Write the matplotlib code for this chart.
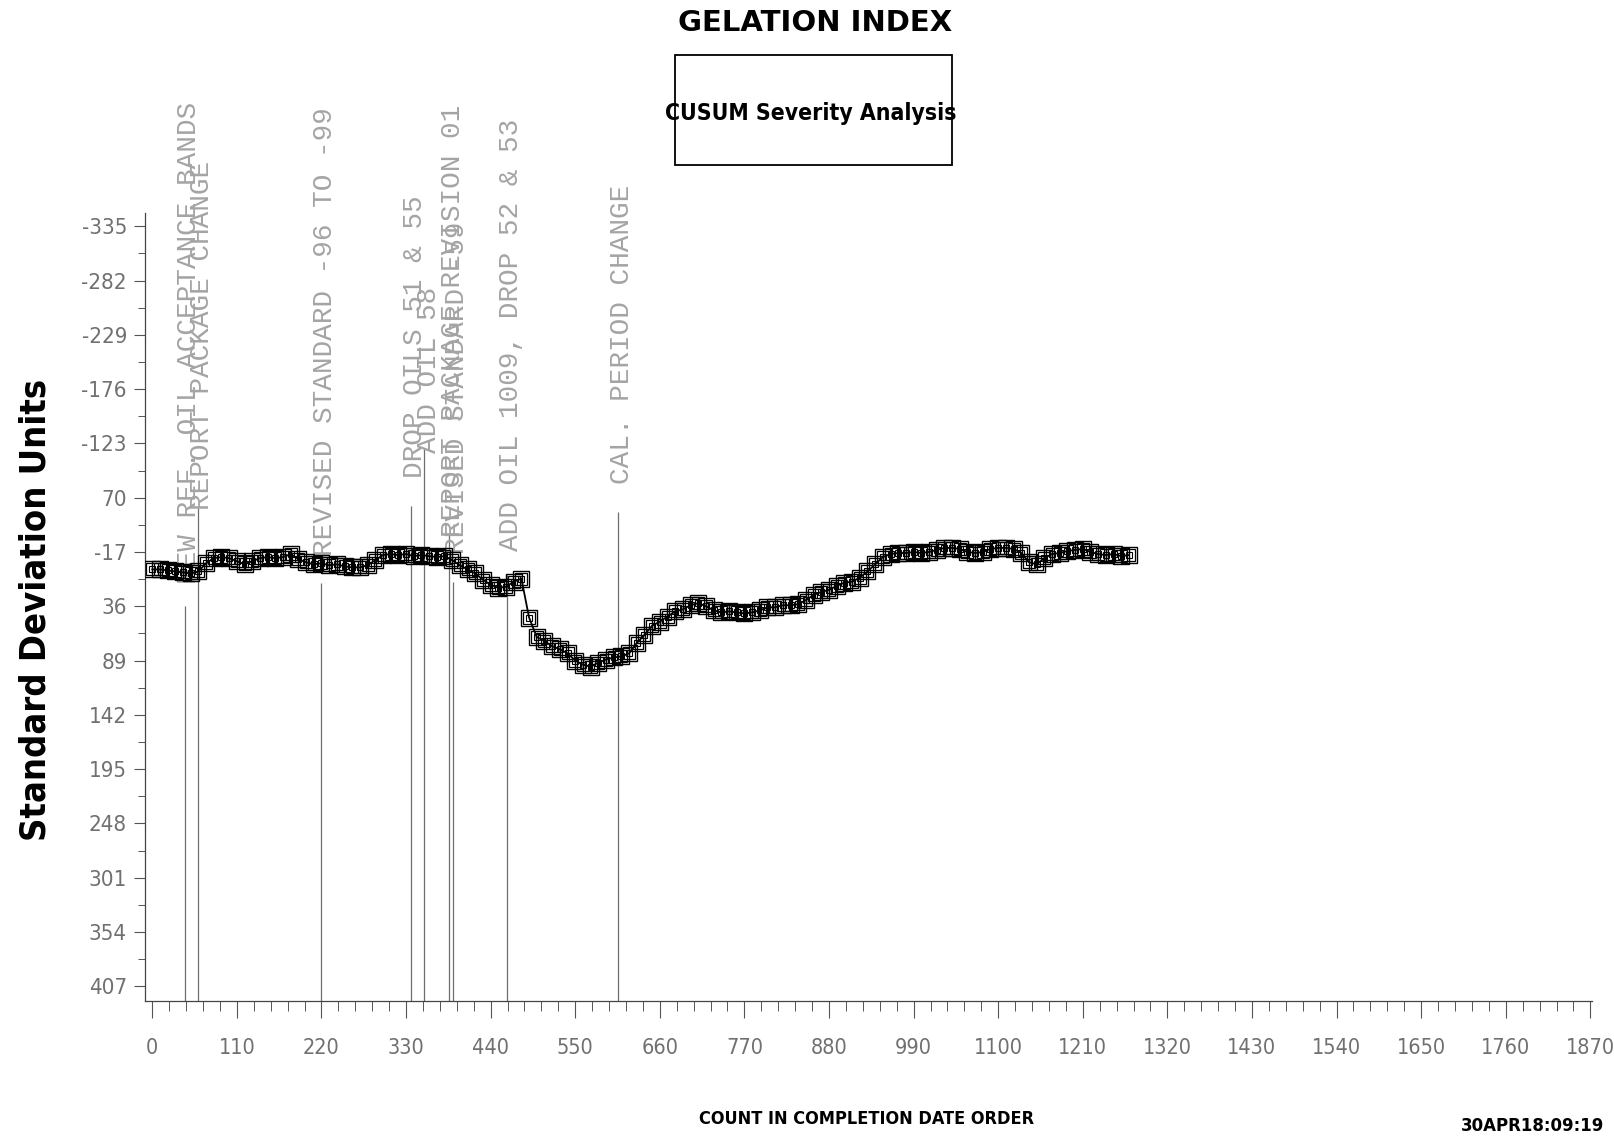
import matplotlib
matplotlib.use("Agg")
import matplotlib.pyplot as plt
from matplotlib.patches import Rectangle
from matplotlib.ticker import FixedLocator, MultipleLocator

# CUSUM series: count in completion-date order vs. cumulative severity
count = list(range(0, 1280, 10))
cusum = [0, 0, 1, 2, 3, 4, 2, -6, -11, -12,
         -11, -8, -5, -8, -11, -12, -11, -12, -15, -10,
         -7, -5, -6, -4, -5, -3, -2, -2, -4, -9,
         -14, -15, -14, -15, -13, -14, -13, -12, -13, -9,
         -4, 0, 4, 10, 15, 18, 17, 12, 9, 47,
         66, 70, 75, 78, 82, 89, 93, 95, 91, 88,
         86, 85, 82, 72, 64, 55, 51, 46, 41, 39,
         35, 33, 36, 40, 42, 41, 42, 43, 42, 40,
         37, 37, 35, 35, 34, 30, 25, 22, 20, 16,
         13, 12, 8, 2, -5, -12, -15, -16, -16, -17,
         -16, -17, -19, -21, -21, -20, -17, -16, -17, -20,
         -21, -21, -20, -16, -7, -5, -11, -15, -16, -18,
         -19, -20, -17, -15, -14, -15, -13, -14]

# Reference events: position, top of marker line, start of label, label
event_x = [43, 59, 219, 336, 354, 386, 391, 461, 605]
event_line_top = [36, -60, 13, -62, -119, -35, 12, 5, -56]
event_text_start = [14, -58, -13, -89, -114, -32, -15, -18, -83]
event_labels = ["NEW REF. OIL ACCEPTANCE BANDS",
                "REPORT PACKAGE CHANGE",
                "REVISED STANDARD -96 TO -99",
                "DROP OILS 51 & 55",
                "ADD OIL 58",
                "REPORT PACKAGE REVISION 01",
                "REVISED STANDARD -59",
                "ADD OIL 1009, DROP 52 & 53",
                "CAL. PERIOD CHANGE"]

ytick_values = [-335, -282, -229, -176, -123, -70, -17, 36, 89, 142, 195, 248, 301, 354, 407]
ytick_labels = ["-335", "-282", "-229", "-176", "-123", "70", "-17", "36", "89",
                "142", "195", "248", "301", "354", "407"]
xtick_values = list(range(0, 1871, 110))
xtick_labels = [str(v) for v in xtick_values]

SANS = ["DejaVu Sans"]

fig = plt.figure(figsize=(16.14, 11.38), dpi=100)
ax = fig.add_axes([0.0898, 0.1208, 0.8965, 0.692])

ax.set_xlim(-9.5, 1872)
ax.set_ylim(421, -348)

for s in ("top", "right"):
    ax.spines[s].set_visible(False)
for s in ("left", "bottom"):
    ax.spines[s].set_color("#444444")
    ax.spines[s].set_linewidth(0.9)

ax.yaxis.set_major_locator(FixedLocator(ytick_values))
ax.set_yticklabels(ytick_labels)
ax.yaxis.set_minor_locator(FixedLocator([v + 26.5 for v in ytick_values[:-1]]))
ax.xaxis.set_major_locator(FixedLocator(xtick_values))
ax.set_xticklabels(xtick_labels)
ax.xaxis.set_minor_locator(MultipleLocator(22))

ax.tick_params(axis="y", which="major", direction="out", length=8, width=0.8,
               color="#555555", pad=5, labelsize=16, labelcolor="#707070")
ax.tick_params(axis="y", which="minor", direction="out", length=5, width=0.7, color="#555555")
ax.tick_params(axis="x", which="major", direction="out", length=12, width=0.8,
               color="#555555", pad=15, labelsize=15.5, labelcolor="#707070")
ax.tick_params(axis="x", which="minor", direction="out", length=7, width=0.7, color="#555555")
for lab in ax.get_xticklabels() + ax.get_yticklabels():
    lab.set_family(SANS)
    lab.set_fontstretch("condensed")

# event marker lines and their labels
ax.vlines(event_x, event_line_top, [421] * len(event_x), colors="#6e6e6e",
          linewidth=0.9, zorder=1)
for x, y0, lab in zip(event_x, event_text_start, event_labels):
    ax.annotate(lab, xy=(x, y0), xytext=(3, 0), textcoords="offset points",
                rotation=90, ha="center", va="bottom", fontsize=20,
                family=["Liberation Mono", "DejaVu Sans Mono"], color="#a4a4a4",
                zorder=1.5, annotation_clip=False)

# CUSUM trace with nested open squares
ax.plot(count, cusum, color="black", linewidth=1.3, zorder=3,
        marker="s", markersize=12, markerfacecolor="none",
        markeredgecolor="black", markeredgewidth=1.0)
ax.plot(count, cusum, linestyle="none", zorder=3,
        marker="s", markersize=8.5, markerfacecolor="none",
        markeredgecolor="black", markeredgewidth=0.9)
ax.plot(count, cusum, linestyle="none", zorder=3,
        marker="s", markersize=5, markerfacecolor="none",
        markeredgecolor="black", markeredgewidth=0.8)

# titles and labels
fig.text(0.505, 0.980, "GELATION INDEX", ha="center", va="center",
         fontsize=21, fontweight="bold", family=SANS)
fig.add_artist(Rectangle((0.4182, 0.8553), 0.1716, 0.0968, transform=fig.transFigure,
                         fill=False, edgecolor="black", linewidth=1.3))
fig.text(0.5025, 0.9007, "CUSUM Severity Analysis", ha="center", va="center",
         fontsize=16.5, fontweight="bold", fontstretch="condensed", family=SANS)
fig.text(0.537, 0.0167, "COUNT IN COMPLETION DATE ORDER", ha="center", va="center",
         fontsize=13, fontweight="bold", fontstretch="condensed", family=SANS)
fig.text(0.0223, 0.464, "Standard Deviation Units", ha="center", va="center",
         rotation=90, fontsize=26, fontweight="bold", fontstretch="condensed", family=SANS)
fig.text(0.905, 0.003, "30APR18:09:19", ha="left", va="bottom",
         fontsize=12, fontweight="bold", family=SANS)

fig.savefig("out.png", dpi=100, facecolor="white")
